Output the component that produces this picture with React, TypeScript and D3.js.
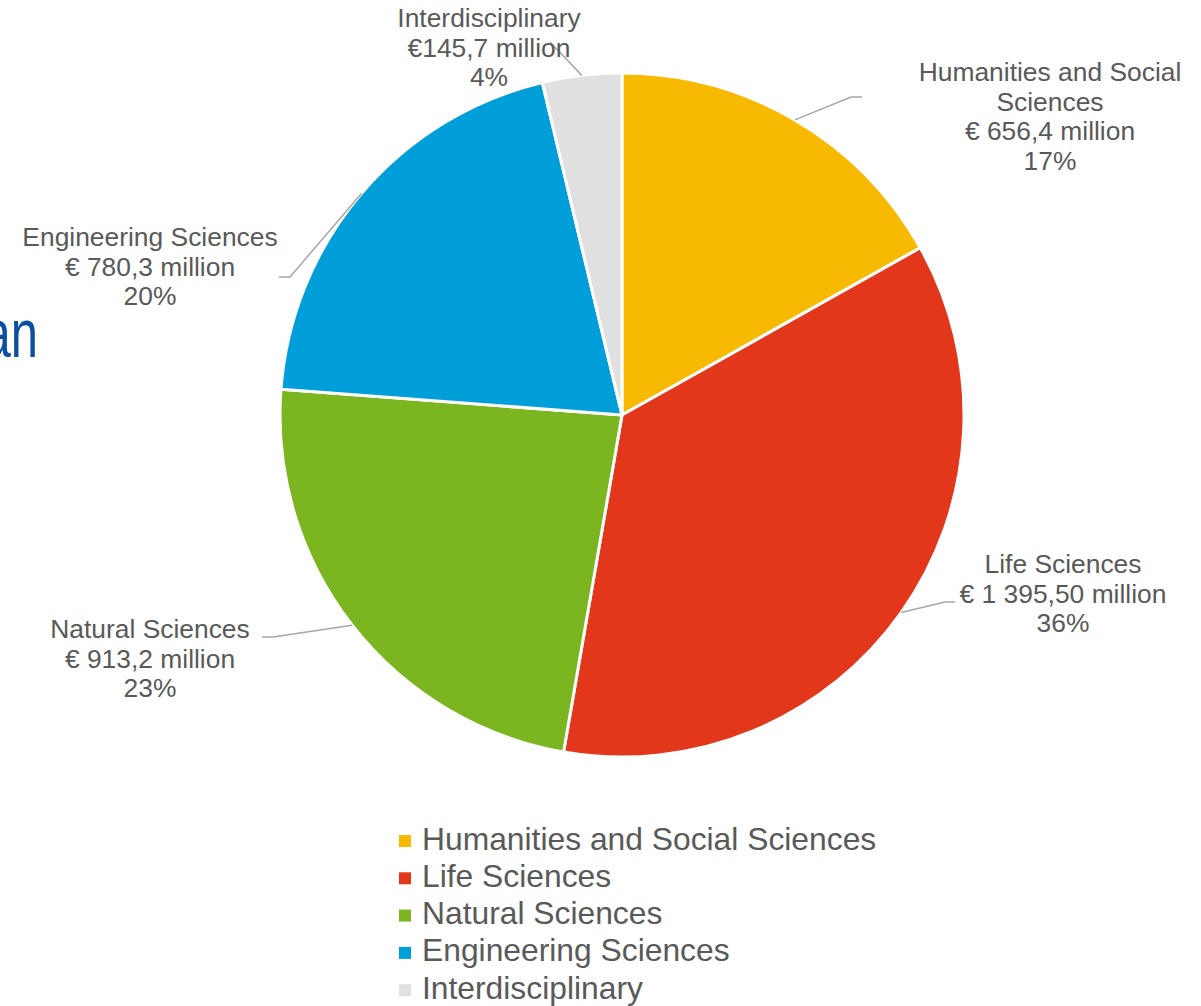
import React, { useEffect, useRef } from 'react';
import * as d3 from 'd3';

// chart data
const categories = [
  'Humanities and Social Sciences',
  'Life Sciences',
  'Natural Sciences',
  'Engineering Sciences',
  'Interdisciplinary',
];
const amounts = [656.4, 1395.5, 913.2, 780.3, 145.7];
const amountLabels = ['€ 656,4 million', '€ 1 395,50 million', '€ 913,2 million', '€ 780,3 million', '€145,7 million'];
const percentLabels = ['17%', '36%', '23%', '20%', '4%'];
const nameLines = [
  ['Humanities and Social', 'Sciences'],
  ['Life Sciences'],
  ['Natural Sciences'],
  ['Engineering Sciences'],
  ['Interdisciplinary'],
];
const colors = ['#F8BA00', '#E2371A', '#7BB51F', '#009FD9', '#E0E0E0'];

const W = 1201;
const H = 1006;

// label placement (label centre x, first baseline y, leader elbow, leader end)
const labelLayout: any = {
  'Humanities and Social Sciences': { x: 1050, y: 81, elbow: [851, 97], end: [862, 97] },
  'Life Sciences': { x: 1063, y: 573, elbow: [945, 602], end: [955, 602] },
  'Natural Sciences': { x: 150, y: 638, elbow: [273, 637], end: [262, 637] },
  'Engineering Sciences': { x: 150, y: 246, elbow: [290, 277], end: [279, 277] },
  'Interdisciplinary': { x: 489, y: 27, elbow: [550, 42], end: [550, 42] },
};

const App = () => {
  const ref = useRef<SVGSVGElement>(null);

  useEffect(() => {
    const svg = d3.select(ref.current);
    svg.selectAll('*').remove();

    const cx = 622, cy = 415, r = 342;
    const font = 'Liberation Sans, Arial, sans-serif';
    const textColor = '#595959';

    const data = categories.map((c, i) => ({
      name: c, value: amounts[i], amount: amountLabels[i], pct: percentLabels[i],
      lines: nameLines[i], color: colors[i],
    }));

    const pie = d3.pie<any>().sort(null).value((d: any) => d.value);
    const arcs = pie(data);
    const arc = d3.arc<any>().innerRadius(0).outerRadius(r);
    const edge = d3.arc<any>().innerRadius(r).outerRadius(r);

    // cut-off title fragment on the left (slide title behind the chart)
    svg.append('text')
      .attr('transform', 'translate(38,357) scale(0.72,1)')
      .attr('text-anchor', 'end')
      .style('font-family', font).style('font-size', '68px')
      .style('fill', '#0B4EA2')
      .text('an');

    const g = svg.append('g').attr('transform', `translate(${cx},${cy})`);

    g.selectAll('path.slice').data(arcs).enter().append('path')
      .attr('class', 'slice')
      .attr('d', arc as any)
      .style('fill', (d: any) => d.data.color)
      .style('stroke', '#fff')
      .style('stroke-width', 3)
      .style('stroke-linejoin', 'round');

    // leader lines
    arcs.forEach((d: any) => {
      const lay = labelLayout[d.data.name];
      const [sx, sy] = edge.centroid(d);
      const pts: [number, number][] = [
        [sx + cx, sy + cy],
        [lay.elbow[0], lay.elbow[1]],
        [lay.end[0], lay.end[1]],
      ];
      svg.append('path')
        .attr('d', d3.line()(pts))
        .style('fill', 'none')
        .style('stroke', '#A6A6A6')
        .style('stroke-width', 1.5);
    });

    // data labels
    arcs.forEach((d: any) => {
      const lay = labelLayout[d.data.name];
      const lines = [...d.data.lines, d.data.amount, d.data.pct];
      const t = svg.append('text')
        .attr('text-anchor', 'middle')
        .style('font-family', font).style('font-size', '26.4px')
        .style('fill', textColor);
      lines.forEach((ln: string, i: number) => {
        t.append('tspan').attr('x', lay.x).attr('y', lay.y + i * 29.7).text(ln);
      });
    });

    // legend
    const legend = svg.append('g').attr('transform', 'translate(399,835)');
    data.forEach((d, i) => {
      const row = legend.append('g').attr('transform', `translate(0,${i * 37.3})`);
      row.append('rect').attr('width', 12).attr('height', 12).style('fill', d.color);
      row.append('text')
        .attr('x', 23).attr('y', 14.5)
        .style('font-family', font).style('font-size', '31.8px')
        .style('fill', textColor)
        .text(d.name);
    });
  }, []);

  return (
    <svg ref={ref} width={W} height={H}
      style={{ position: 'absolute', left: 0, top: 0, background: '#fff' }} />
  );
};

export default App;
